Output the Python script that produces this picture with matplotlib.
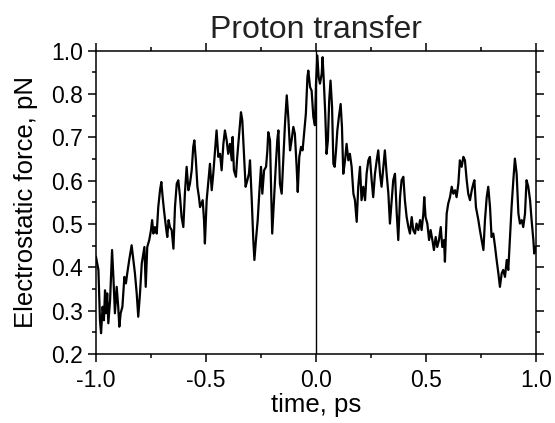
import numpy as np
import matplotlib
matplotlib.use("Agg")
import matplotlib.pyplot as plt
from matplotlib.ticker import MultipleLocator, FixedLocator, FixedFormatter

plt.rcParams['font.family'] = ['Liberation Sans', 'DejaVu Sans']

time_ps = [
    -1.000, -0.989, -0.982, -0.977, -0.970, -0.964, -0.959, -0.955, -0.949, -0.944,
    -0.936, -0.927, -0.921, -0.914, -0.906, -0.899, -0.894, -0.888, -0.880, -0.871,
    -0.864, -0.858, -0.849, -0.838, -0.830, -0.823, -0.815, -0.808, -0.800, -0.792,
    -0.785, -0.780, -0.774, -0.767, -0.758, -0.750, -0.745, -0.739, -0.732, -0.724,
    -0.717, -0.709, -0.703, -0.697, -0.691, -0.682, -0.676, -0.670, -0.664, -0.656,
    -0.648, -0.641, -0.633, -0.626, -0.618, -0.611, -0.603, -0.596, -0.588, -0.580,
    -0.573, -0.565, -0.558, -0.553, -0.546, -0.539, -0.532,
    -0.527, -0.515, -0.509, -0.505, -0.497, -0.489, -0.482, -0.474, -0.467, -0.459,
    -0.452, -0.444, -0.436, -0.429, -0.421, -0.414, -0.406, -0.399, -0.391, -0.383,
    -0.379, -0.373, -0.364, -0.358, -0.349, -0.341, -0.335, -0.327, -0.320, -0.312,
    -0.305, -0.300, -0.292, -0.285, -0.280, -0.273, -0.265, -0.258, -0.250, -0.244,
    -0.236, -0.227, -0.221, -0.217, -0.209, -0.205, -0.199, -0.191, -0.183, -0.176,
    -0.171, -0.164, -0.156, -0.149, -0.141, -0.133, -0.126, -0.118, -0.111, -0.103,
    -0.096, -0.088, -0.083, -0.076, -0.068, -0.061, -0.053, -0.046, -0.039, -0.035,
    -0.027, -0.020, -0.012, -0.005,
    0.000, 0.006, 0.012, 0.018, 0.026, 0.030, 0.036, 0.042, 0.048, 0.054,
    0.060, 0.066, 0.073, 0.079, 0.085, 0.091, 0.097, 0.104, 0.112, 0.118,
    0.124, 0.132, 0.139, 0.147, 0.154, 0.162, 0.170, 0.177, 0.185, 0.192,
    0.200, 0.207, 0.215, 0.223, 0.230, 0.238, 0.245, 0.253, 0.260, 0.268,
    0.276, 0.283, 0.291, 0.298, 0.306, 0.313, 0.321, 0.329, 0.336, 0.344,
    0.351, 0.359, 0.367, 0.374, 0.382, 0.389, 0.397, 0.404, 0.412, 0.420,
    0.427, 0.435, 0.442, 0.450, 0.457, 0.465,
    0.473, 0.480, 0.488, 0.492, 0.498, 0.506, 0.514, 0.521, 0.529, 0.536,
    0.544, 0.551, 0.559, 0.567, 0.574, 0.582, 0.586, 0.594, 0.601, 0.609,
    0.617, 0.624, 0.632, 0.639, 0.647, 0.654, 0.662, 0.670, 0.677, 0.685,
    0.692, 0.700, 0.708, 0.715, 0.720, 0.727, 0.738, 0.745, 0.753, 0.761,
    0.768, 0.776, 0.783, 0.791, 0.798, 0.806, 0.814, 0.821, 0.829, 0.836,
    0.844, 0.851, 0.859, 0.867, 0.874, 0.882, 0.889, 0.897, 0.904, 0.912,
    0.920, 0.927, 0.935, 0.942, 0.950, 0.957, 0.965, 0.973, 0.980, 0.988,
    0.992, 0.998,
]

force_pN = [
    0.424, 0.394, 0.278, 0.248, 0.309, 0.278, 0.347, 0.294, 0.340, 0.271,
    0.324, 0.440, 0.378, 0.294, 0.355, 0.309, 0.263, 0.294, 0.309, 0.378,
    0.363, 0.386, 0.417, 0.451, 0.417, 0.386, 0.340, 0.286, 0.340, 0.409,
    0.432, 0.447, 0.355, 0.447, 0.463, 0.486, 0.509, 0.478, 0.493, 0.478,
    0.539, 0.578, 0.597, 0.562, 0.532, 0.493, 0.470, 0.509, 0.493, 0.486,
    0.443, 0.539, 0.593, 0.601, 0.562, 0.516, 0.493, 0.570, 0.632, 0.578,
    0.593, 0.624, 0.678, 0.693, 0.647, 0.586, 0.562,
    0.539, 0.555, 0.509, 0.455, 0.555, 0.601, 0.639, 0.578, 0.616, 0.670,
    0.716, 0.655, 0.662, 0.624, 0.685, 0.716, 0.693, 0.662, 0.685, 0.647,
    0.701, 0.624, 0.609, 0.655, 0.708, 0.758, 0.739, 0.655, 0.586, 0.601,
    0.616, 0.647, 0.555, 0.463, 0.417, 0.463, 0.509, 0.570, 0.632, 0.570,
    0.624, 0.632, 0.670, 0.712, 0.693, 0.601, 0.478, 0.555, 0.632, 0.693,
    0.716, 0.593, 0.570, 0.647, 0.731, 0.797, 0.747, 0.670, 0.693, 0.724,
    0.708, 0.632, 0.574, 0.655, 0.678, 0.670, 0.716, 0.755, 0.839, 0.854,
    0.816, 0.808, 0.747, 0.728,
    0.824, 0.889, 0.839, 0.824, 0.847, 0.885, 0.824, 0.755, 0.662, 0.693,
    0.785, 0.831, 0.770, 0.639, 0.632, 0.670, 0.716, 0.747, 0.777, 0.724,
    0.616, 0.647, 0.685, 0.647, 0.662, 0.632, 0.570, 0.555, 0.505, 0.586,
    0.632, 0.555, 0.586, 0.555, 0.616, 0.647, 0.655, 0.601, 0.562, 0.616,
    0.647, 0.670, 0.616, 0.586, 0.632, 0.670, 0.616, 0.570, 0.501, 0.555,
    0.601, 0.616, 0.524, 0.463, 0.562, 0.601, 0.609, 0.555, 0.516, 0.493,
    0.478, 0.516, 0.486, 0.478, 0.501, 0.486,
    0.509, 0.486, 0.524, 0.562, 0.516, 0.501, 0.463, 0.486, 0.463, 0.440,
    0.470, 0.447, 0.463, 0.493, 0.447, 0.463, 0.413, 0.524, 0.547, 0.562,
    0.586, 0.570, 0.578, 0.562, 0.593, 0.647, 0.632, 0.655, 0.647, 0.601,
    0.570, 0.555, 0.578, 0.593, 0.601, 0.539, 0.509, 0.486, 0.463, 0.440,
    0.509, 0.562, 0.586, 0.539, 0.470, 0.478, 0.447, 0.417, 0.386, 0.355,
    0.386, 0.394, 0.378, 0.417, 0.394, 0.470, 0.539, 0.601, 0.651, 0.616,
    0.524, 0.501, 0.509, 0.493, 0.524, 0.601, 0.586, 0.555, 0.509, 0.463,
    0.432, 0.447,
]

y_ticks = [0.2, 0.3, 0.4, 0.5, 0.6, 0.7, 0.8, 0.9]
y_tick_labels = ['0.2', '0.3', '0.4', '0.5', '0.6', '0.7', '0.8', '1.0']
x_ticks = [-1.0, -0.5, 0.0, 0.5, 1.0]
x_tick_labels = ['-1.0', '-0.5', '0.0', '0.5', '1.0']

fig = plt.figure(figsize=(5.55, 4.23), dpi=100)
ax = fig.add_axes([96/555, 1-354/423, (536-96)/555, (354-50.7)/423])

ax.plot(time_ps, force_pN, color='black', lw=1.6, solid_joinstyle='round')
ax.axvline(0.0, color='black', lw=1.0)

ax.set_xlim(-1.0, 1.0)
ax.set_ylim(0.2, 0.9)
ax.xaxis.set_major_locator(FixedLocator(x_ticks))
ax.xaxis.set_major_formatter(FixedFormatter(x_tick_labels))
ax.xaxis.set_minor_locator(MultipleLocator(0.25))
ax.yaxis.set_major_locator(FixedLocator(y_ticks))
ax.yaxis.set_major_formatter(FixedFormatter(y_tick_labels))
ax.yaxis.set_minor_locator(MultipleLocator(0.05))

ax.tick_params(which='both', direction='out', top=True, right=True,
               labeltop=False, labelright=False, width=1.1, color='black')
ax.tick_params(which='major', length=5.5, labelsize=16.5)
ax.tick_params(axis='x', which='major', pad=5)
ax.tick_params(axis='y', which='major', pad=4)
ax.tick_params(which='minor', length=3)
for s in ax.spines.values():
    s.set_linewidth(1.1)

ax.set_xlabel('time, ps', fontsize=18.5, labelpad=1)
ax.set_ylabel('Electrostatic force, pN', fontsize=18.5, labelpad=9)
ax.set_title('Proton transfer', fontsize=23, pad=9, color='#222222')

fig.savefig('out.png', dpi=100)
